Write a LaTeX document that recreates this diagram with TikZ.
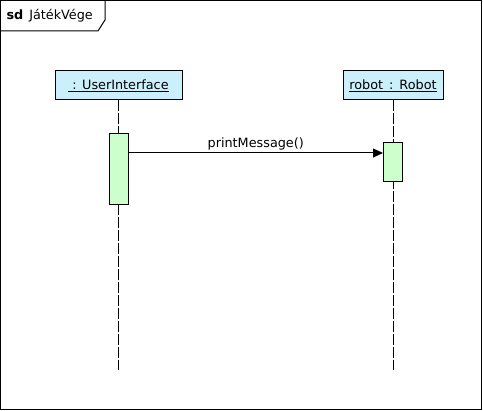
\documentclass[tikz,border=0pt]{standalone}
\usepackage{fontspec}
\setmainfont{DejaVu Sans}
\usetikzlibrary{arrows.meta,positioning}

\begin{document}
\begin{tikzpicture}[x=1pt,y=-1pt,line width=1pt,>={Triangle[length=10pt,width=9pt]},
  every node/.append style={font=\fontsize{12.8}{15}\selectfont},
  obj/.style={draw, fill=cyan!20, minimum height=29pt, inner sep=0pt},
  act/.style={draw, fill=green!20, minimum width=19pt, inner sep=0pt},
  lifeline/.style={dash pattern=on 11pt off 2pt}]
    \useasboundingbox (0,0) rectangle (483,411);
    % frame and its header
    \draw (0.5,0.5) rectangle (481.5,409.5);
    \draw (0.5,31) -- (98,31) -- (105,20) -- (105,0.5);
    \node [anchor=base west, inner sep=0pt] (title) at (6,20) {\textbf{sd}\hspace{6pt}JátékVége};
    % objects
    \node [obj, minimum width=127pt] (ui) at (118.5,85.5) {\underline{\ : UserInterface}};
    \node [obj, minimum width=100pt] (robot) at (393,85.5) {\underline{robot\hspace{6pt}:\hspace{6pt}Robot}};
    \coordinate (uiend) at (ui.south |- 0,370);
    \coordinate (robotend) at (robot.south |- 0,370);
    \draw [lifeline] (ui.south) -- (uiend);
    \draw [lifeline] (robot.south) -- (robotend);
    % activations
    \node [act, minimum height=71pt] (uiact) at (118.5,169.5) {};
    \node [act, minimum height=39pt] (robotact) at (393,162.5) {};
    \coordinate (msg) at (uiact.east |- 0,153);
    \draw [->] (msg) -- node [above=1pt, inner sep=1pt] {printMessage()} (msg -| robotact.west);
\end{tikzpicture}
\end{document}
